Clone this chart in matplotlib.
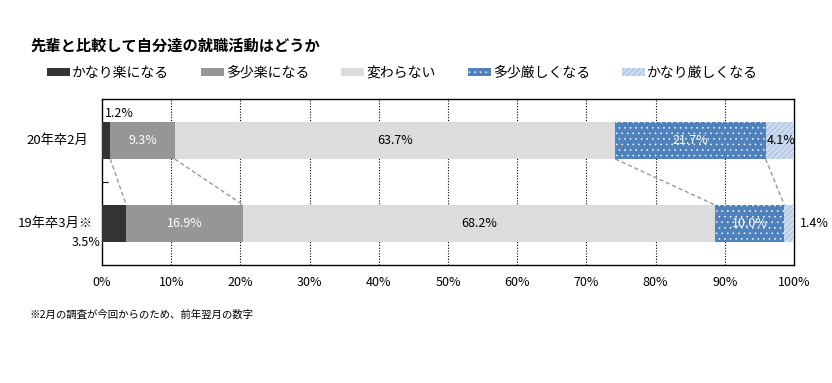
import matplotlib
matplotlib.use("Agg")
import matplotlib.pyplot as plt
from matplotlib.patches import Patch
import numpy as np

plt.rcParams['font.family'] = ['Noto Sans CJK JP', 'DejaVu Sans']
plt.rcParams['hatch.linewidth'] = 0.4

title = "先輩と比較して自分達の就職活動はどうか"
categories = ["20年卒2月", "19年卒3月※"]
series = ["かなり楽になる", "多少楽になる", "変わらない", "多少厳しくなる", "かなり厳しくなる"]
values_20 = [1.2, 9.3, 63.7, 21.7, 4.1]
values_19 = [3.5, 16.9, 68.2, 10.0, 1.4]
xticks = [0, 10, 20, 30, 40, 50, 60, 70, 80, 90, 100]
footnote = "※2月の調査が今回からのため、前年翌月の数字"

colors = ["#333333", "#969696", "#dcdcdc", "#4f81bd", "#b9cde8"]
hatches = [None, None, None, "...", "//////"]
label_colors = ["black", "white", "black", "white", "black"]

W, H = 832, 383
fig = plt.figure(figsize=(W / 100, H / 100), dpi=100)
ax = fig.add_axes([102 / W, 1 - 265 / H, (794 - 102) / W, (265 - 99) / H])

data = [values_20, values_19]
ypos = [1, 0]
bh = 0.446
for row, y in zip(data, ypos):
    left = 0
    for i, v in enumerate(row):
        ax.barh(y, v, left=left, height=bh, color=colors[i],
                edgecolor="white" if hatches[i] else colors[i],
                hatch=hatches[i], linewidth=0, zorder=3)
        left += v

c20 = np.cumsum(values_20)[:-1]
c19 = np.cumsum(values_19)[:-1]
for a, b in zip(c20, c19):
    ax.plot([a, b], [1 - bh / 2, 0 + bh / 2], color="#999999", ls=(0, (3, 2)), lw=1, zorder=2)

fs = 9
cum = np.concatenate([[0], np.cumsum(values_20)])
for i, v in enumerate(values_20):
    cx = (cum[i] + cum[i + 1]) / 2
    if i == 0:
        ax.text(0.4, 1 + bh / 2 + 0.03, f"{v:.1f}%", ha="left", va="bottom", fontsize=fs, zorder=5)
    elif i == 4:
        ax.text(cum[i] + 0.1, 1, f"{v:.1f}%", ha="left", va="center", fontsize=fs, zorder=5)
    else:
        ax.text(cx, 1, f"{v:.1f}%", ha="center", va="center", fontsize=fs, color=label_colors[i], zorder=5)
cum = np.concatenate([[0], np.cumsum(values_19)])
for i, v in enumerate(values_19):
    cx = (cum[i] + cum[i + 1]) / 2
    if i == 0:
        ax.text(-0.2, 0 - bh / 2, f"{v:.1f}%", ha="right", va="center", fontsize=fs, zorder=5)
    elif i == 4:
        ax.text(100.8, 0, f"{v:.1f}%", ha="left", va="center", fontsize=fs, zorder=5, clip_on=False)
    else:
        ax.text(cx, 0, f"{v:.1f}%", ha="center", va="center", fontsize=fs, color=label_colors[i], zorder=5)

ax.set_xlim(0, 100)
ax.set_ylim(-0.5, 1.5)
ax.set_xticks(xticks)
ax.set_xticklabels([f"{t}%" for t in xticks], fontsize=fs)
ax.tick_params(axis="x", length=0, pad=8)
ax.set_yticks([0.5])
ax.set_yticklabels([""])
ax.tick_params(axis="y", direction="in", length=4)
for t in xticks[1:-1]:
    ax.axvline(t, color="black", ls=(0, (1, 1.5)), lw=0.8, zorder=1)
for s in ax.spines.values():
    s.set_color("black")
    s.set_linewidth(1)

fig.text(88 / W, 1 - 140 / H, categories[0], ha="right", va="center", fontsize=9.5)
fig.text(93 / W, 1 - 223 / H, categories[1], ha="right", va="center", fontsize=9.5)

fig.text(30 / W, 1 - 46 / H, title, ha="left", va="center", fontsize=11, fontweight="bold")

handles = [Patch(facecolor=colors[i], edgecolor="white" if hatches[i] else colors[i],
                 hatch=hatches[i], linewidth=0, label=series[i]) for i in range(5)]
fig.legend(handles=handles, loc="center left", bbox_to_anchor=(36 / W, 1 - 73 / H), ncol=5,
           frameon=False, fontsize=10, handlelength=1.65, handleheight=0.5, handletextpad=0.15,
           columnspacing=2.3, borderpad=0.3)

fig.text(30 / W, 1 - 315 / H, footnote, ha="left", va="center", fontsize=7.5)

fig.savefig("out.png", dpi=100)
